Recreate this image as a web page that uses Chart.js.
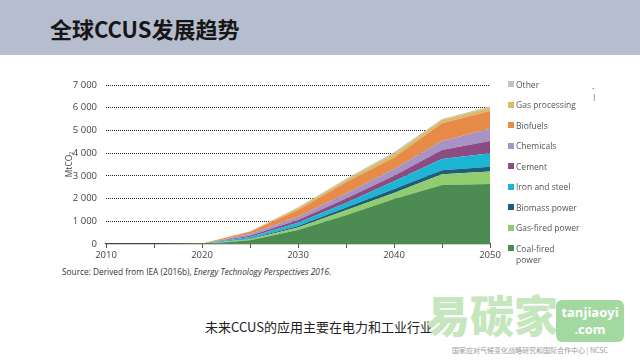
<!DOCTYPE html>
<html>
<head>
<meta charset="utf-8">
<script src="https://cdn.jsdelivr.net/npm/chart.js@4.4.1/dist/chart.umd.min.js"></script>
<style>
  html,body{margin:0;padding:0;width:640px;height:360px;overflow:hidden;background:#fff;}
  #bar{position:absolute;left:0;top:0;width:640px;height:55px;background:#b5bdce;}
  #title{position:absolute;left:50px;top:13px;font-family:"Noto Sans CJK SC","Noto Sans",sans-serif;font-weight:700;font-size:22px;color:#161616;line-height:30px;white-space:nowrap;}
  #wrap{position:absolute;left:0;top:60px;width:510px;height:204px;}
  #legend{position:absolute;left:508px;top:0;font-family:"Open Sans",sans-serif;font-size:8.5px;color:#555;}
  .li{position:absolute;left:0;white-space:nowrap;line-height:11px;}
  .sw{position:absolute;left:0;top:2.5px;width:6px;height:6px;}
  .lt{position:absolute;left:8px;top:0;}
  #source{position:absolute;left:62px;top:266px;font-family:"Open Sans",sans-serif;font-size:8.3px;color:#333;white-space:nowrap;}
  #caption{position:absolute;left:205px;top:317px;font-family:"Noto Sans CJK SC",sans-serif;font-size:13px;color:#222;white-space:nowrap;}
  #wm{position:absolute;left:426px;top:282px;font-family:"Noto Sans CJK SC",sans-serif;font-weight:900;font-size:44px;color:#c6e7bd;white-space:nowrap;line-height:64px;}
  #wmbox{position:absolute;left:556px;top:300px;width:68px;height:42px;background:#a3d9a1;border-radius:6px;color:#fff;font-family:"Open Sans",sans-serif;font-weight:700;text-align:center;}
  #wmbox .a{font-size:13px;line-height:18px;margin-top:3px;}
  #wmbox .b{font-size:13px;line-height:16px;}
  #ncsc{position:absolute;left:452px;top:345px;font-family:"Noto Sans CJK SC",sans-serif;font-size:7px;color:#9a9a9a;white-space:nowrap;}
  #mark{position:absolute;left:592px;top:82px;font-family:"Open Sans",sans-serif;font-size:8px;color:#555;line-height:9px;}
</style>
</head>
<body>
<div id="bar"></div>
<div id="title">全球CCUS发展趋势</div>
<div id="wrap"><canvas id="c"></canvas></div>
<div id="legend"></div>
<div id="mark">-<br>|</div>
<div id="source">Source: Derived from IEA (2016b), <i>Energy Technology Perspectives 2016</i>.</div>
<div id="caption">未来CCUS的应用主要在电力和工业行业</div>
<div id="wm">易碳家</div>
<div id="wmbox"><div class="a">tanjiaoyi</div><div class="b">.com</div></div>
<div id="ncsc">国家应对气候变化战略研究和国际合作中心 | NCSC</div>
<script>
const years = [2010, 2015, 2020, 2025, 2030, 2035, 2040, 2045, 2050];
const coalFired     = [0, 0, 5, 170, 620, 1270, 1980, 2600, 2640];
const gasFired      = [0, 0, 1, 40, 110, 220, 260, 470, 550];
const biomassPower  = [0, 0, 1, 25, 60, 120, 180, 180, 210];
const ironSteel     = [0, 0, 2, 70, 150, 200, 340, 490, 600];
const cement        = [0, 0, 2, 60, 120, 190, 250, 400, 540];
const chemicals     = [0, 0, 3, 80, 140, 220, 290, 400, 530];
const biofuels      = [0, 0, 4, 90, 300, 500, 510, 780, 790];
const gasProcessing = [0, 0, 1, 20, 80, 110, 150, 140, 140];
const other         = [0, 0, 1, 10, 40, 40, 80, 40, 50];
const yTicks = [0, 1000, 2000, 3000, 4000, 5000, 6000, 7000];
const xLabels = [2010, 2020, 2030, 2040, 2050];

const series = [
  {label: 'Coal-fired power', lines: ['Coal-fired', 'power'], data: coalFired, color: '#4c8c52'},
  {label: 'Gas-fired power', data: gasFired, color: '#8fcd6e'},
  {label: 'Biomass power', data: biomassPower, color: '#1d5e7b'},
  {label: 'Iron and steel', data: ironSteel, color: '#1cb6d4'},
  {label: 'Cement', data: cement, color: '#8c4b83'},
  {label: 'Chemicals', data: chemicals, color: '#a793c4'},
  {label: 'Biofuels', data: biofuels, color: '#e88a48'},
  {label: 'Gas processing', data: gasProcessing, color: '#d8bd66'},
  {label: 'Other', data: other, color: '#c2c2c2'}
];

const datasets = series.map((s, i) => ({
  label: s.label,
  data: years.map((y, j) => ({x: y, y: s.data[j]})),
  backgroundColor: s.color,
  borderColor: s.color,
  borderWidth: 0,
  pointRadius: 0,
  fill: i === 0 ? 'origin' : '-1',
  tension: 0
}));

const fmt = v => String(v).replace(/\B(?=(\d{3})+(?!\d))/g, ' ');

new Chart(document.getElementById('c'), {
  type: 'line',
  data: {datasets},
  options: {
    responsive: true,
    maintainAspectRatio: false,
    animation: false,
    layout: {padding: {left: 60, right: 20, top: 25, bottom: 0}},
    plugins: {legend: {display: false}, tooltip: {enabled: false}},
    scales: {
      x: {
        type: 'linear', min: 2010, max: 2050,
        afterBuildTicks: sc => { sc.ticks = years.map(v => ({value: v})); },
        afterFit: sc => { sc.height = 20; },
        ticks: {
          autoSkip: false, maxRotation: 0, padding: 2,
          callback: v => xLabels.includes(v) ? String(v) : '',
          font: {family: 'Open Sans', size: 9.5}, color: '#444'
        },
        grid: {drawOnChartArea: false, drawTicks: true, tickLength: 4, tickColor: '#555', tickWidth: 1},
        border: {display: true, color: '#444', width: 1.2}
      },
      y: {
        stacked: true, min: 0, max: 7000,
        afterBuildTicks: sc => { sc.ticks = yTicks.map(v => ({value: v})); },
        afterFit: sc => { sc.width = 46; },
        ticks: {padding: 9, callback: v => fmt(v), font: {family: 'Open Sans', size: 9.5}, color: '#444'},
        grid: {drawTicks: false, color: ctx => ctx.tick && ctx.tick.value === 0 ? 'rgba(0,0,0,0)' : '#222', lineWidth: 1},
        border: {display: false, dash: [1, 1]},
        title: {display: true, text: 'MtCO₂', padding: {top: 4, bottom: 0}, font: {family: 'Open Sans', size: 8.5}, color: '#444'}
      }
    }
  }
});

// legend (HTML, top = Other ... bottom = Coal-fired)
const leg = document.getElementById('legend');
const order = series.slice().reverse();
order.forEach((s, i) => {
  const d = document.createElement('div');
  d.className = 'li';
  d.style.top = (78.5 + i * 20.5) + 'px';
  const sw = document.createElement('div');
  sw.className = 'sw';
  sw.style.background = s.color;
  const t = document.createElement('div');
  t.className = 'lt';
  t.innerHTML = (s.lines || [s.label]).join('<br>');
  d.appendChild(sw); d.appendChild(t);
  leg.appendChild(d);
});
</script>
</body>
</html>
